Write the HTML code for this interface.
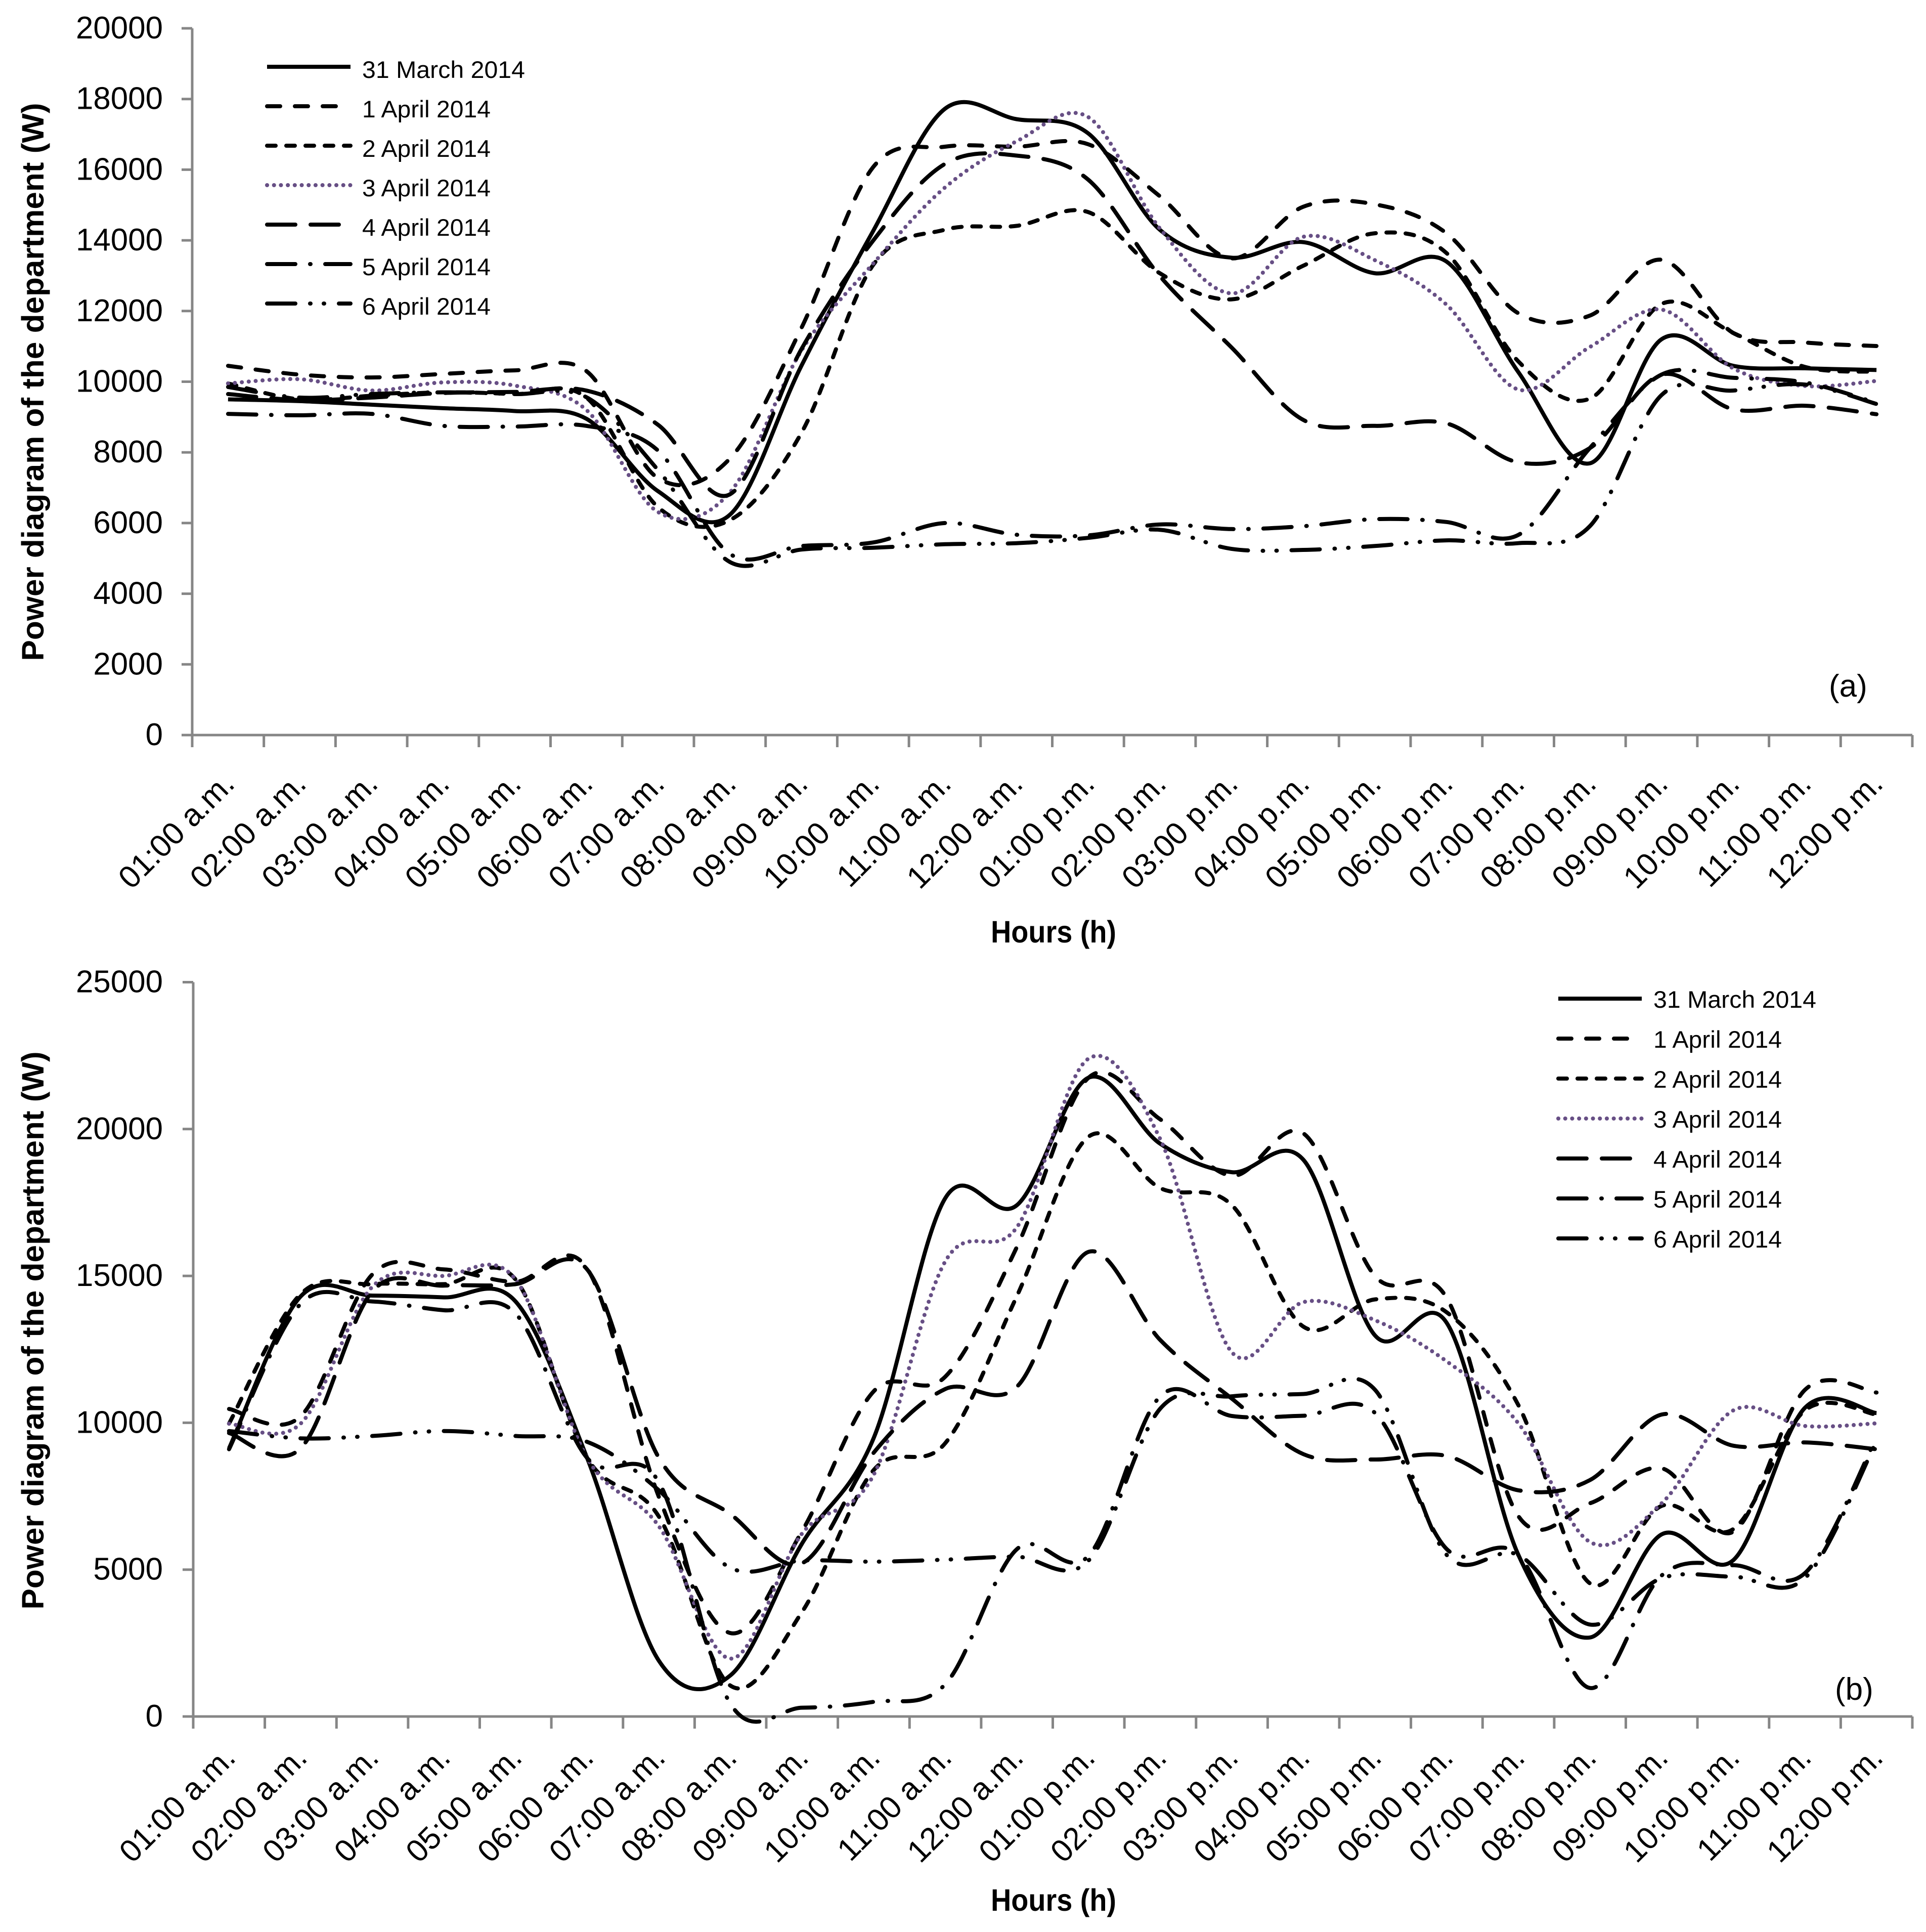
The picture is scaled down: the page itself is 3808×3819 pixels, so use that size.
<!DOCTYPE html>
<html lang="en">
<head>
<meta charset="utf-8">
<title>Power diagram of the department</title>
<style>
html,body{margin:0;padding:0;background:#fff;}
svg{display:block;}
text{font-family:"Liberation Sans",Arial,sans-serif;fill:#000;}
</style>
</head>
<body>
<svg id="figure" xmlns="http://www.w3.org/2000/svg" width="3808" height="3819" viewBox="0 0 3808 3819"></svg>
<script>
const categories = ["01:00 a.m.","02:00 a.m.","03:00 a.m.","04:00 a.m.","05:00 a.m.","06:00 a.m.","07:00 a.m.","08:00 a.m.","09:00 a.m.","10:00 a.m.","11:00 a.m.","12:00 a.m.","01:00 p.m.","02:00 p.m.","03:00 p.m.","04:00 p.m.","05:00 p.m.","06:00 p.m.","07:00 p.m.","08:00 p.m.","09:00 p.m.","10:00 p.m.","11:00 p.m.","12:00 p.m."];
const seriesNames = ["31 March 2014","1 April 2014","2 April 2014","3 April 2014","4 April 2014","5 April 2014","6 April 2014"];
const yTicksA = [0,2000,4000,6000,8000,10000,12000,14000,16000,18000,20000];
const yTicksB = [0,5000,10000,15000,20000,25000];

const panelA31March = [9500,9450,9350,9250,9170,8950,6900,6230,10450,14260,17720,17430,17030,14300,13510,13950,13070,13400,10280,7690,11200,10450,10380,10330];
const panelA1April = [10450,10200,10120,10220,10320,10300,7270,7820,11520,16070,16650,16650,16720,15250,13490,14950,15020,14200,11940,11870,13450,11380,11110,11010];
const panelA2April = [9950,9500,9600,9700,9650,9550,6450,6080,8550,13300,14300,14410,14800,13070,12330,13280,14200,13640,10580,9520,12200,11380,10420,10280];
const panelA3April = [9950,10070,9750,9980,9890,9200,6310,6860,10880,13340,15490,16800,17490,14340,12500,14100,13440,12180,9780,10980,12040,10380,9880,10020];
const panelA4April = [9650,9480,9550,9680,9710,9750,8780,6810,10920,13990,16160,16400,15720,12990,10970,8920,8750,8820,7720,8120,10200,9220,9320,9080];
const panelA5April = [9090,9050,9090,8750,8730,8750,8050,5130,5350,5450,6000,5670,5650,5960,5830,5910,6110,6030,5660,8120,10200,10110,9980,9400];
const panelA6April = [9850,9550,9650,9700,9650,9560,7500,4900,5250,5300,5400,5430,5580,5810,5270,5240,5350,5510,5430,5910,9620,9750,9920,9370];

const panelB31March = [9130,14300,14330,14270,14130,8800,1900,1400,5890,9480,17650,17410,21750,19500,18530,18950,12970,13400,5500,2690,6200,5320,10510,10330];
const panelB1April = [10470,10220,15050,15220,14800,15250,7480,2840,6310,11070,11570,15990,21750,20330,18410,19850,14990,14250,6820,7260,8450,6290,11120,11030];
const panelB2April = [9970,14380,14720,14720,14880,8800,6810,1050,3560,8390,9310,14320,19740,17990,17410,13270,14200,13760,10600,4530,7170,6380,10420,10280];
const panelB3April = [9970,9970,14630,15000,14880,8800,6480,1970,6230,8230,15500,16660,22400,19660,12400,14110,13490,12090,9980,5940,7260,10420,9890,9980];
const panelB4April = [9650,9130,14470,14670,14720,15220,8810,6890,5220,8980,11150,11230,15820,12820,10820,8930,8750,8870,7700,8050,10280,9220,9330,9100];
const panelB5April = [9100,14050,14130,13830,13720,8800,7980,430,300,500,1100,5700,5470,10900,10230,10240,10330,5700,5500,970,4800,5150,4880,9500];
const panelB6April = [9720,9470,9550,9720,9550,9350,7700,5060,5310,5270,5340,5440,5310,10480,10900,10980,11120,5500,5500,3130,4710,4760,4710,9370];

const panelASeries = [panelA31March,panelA1April,panelA2April,panelA3April,panelA4April,panelA5April,panelA6April];
const panelBSeries = [panelB31March,panelB1April,panelB2April,panelB3April,panelB4April,panelB5April,panelB6April];

const NS = "http://www.w3.org/2000/svg";
const fig = document.getElementById("figure");
const AXIS = "#868686";
const dashes = ["", "26 29", "17 21", "0.1 13.6", "56 30", "56 29 1 29", "56 29 1 26 1 29"];
const colours = ["#000","#000","#000","#674f85","#000","#000","#000"];

function svgEl(tag, parent){
  const e = document.createElementNS(NS, tag);
  parent.appendChild(e);
  return e;
}
function setAll(e, attrs){
  for (const k in attrs) e.setAttribute(k, attrs[k]);
  return e;
}
function smoothPath(pts){
  let d = "M" + pts[0][0].toFixed(1) + " " + pts[0][1].toFixed(1);
  for (let i = 0; i < pts.length - 1; i++){
    const p0 = pts[Math.max(i-1,0)], p1 = pts[i], p2 = pts[i+1], p3 = pts[Math.min(i+2,pts.length-1)];
    const c1x = p1[0] + (p2[0]-p0[0])/6, c1y = p1[1] + (p2[1]-p0[1])/6;
    const c2x = p2[0] - (p3[0]-p1[0])/6, c2y = p2[1] - (p3[1]-p1[1])/6;
    d += "C" + c1x.toFixed(1) + " " + c1y.toFixed(1) + " " + c2x.toFixed(1) + " " + c2y.toFixed(1) + " " + p2[0].toFixed(1) + " " + p2[1].toFixed(1);
  }
  return d;
}

function drawPanel(cfg){
  const g = svgEl("g", fig);
  
  
  const step = (cfg.right - cfg.left) / categories.length;
  const xScale = i => cfg.left + step * (i + 0.5);
  const yScale = v => cfg.y0 - (v / cfg.yMax) * (cfg.y0 - cfg.yTop);

  const yAxis = svgEl("path", g);
  
  
  setAll(yAxis, {d:"M"+cfg.left+" "+cfg.yTop+"V"+cfg.y0, stroke:AXIS, "stroke-width":5, fill:"none"});

  const xAxis = svgEl("path", g);
  
  
  setAll(xAxis, {d:"M"+(cfg.left-21)+" "+cfg.y0+"H"+cfg.right, stroke:AXIS, "stroke-width":5, fill:"none"});

  cfg.ticks.forEach(v => {
    const y = yScale(v);
    const t = svgEl("path", g);
    
    
    setAll(t, {d:"M"+(cfg.left-21)+" "+y.toFixed(1)+"H"+cfg.left, stroke:AXIS, "stroke-width":5, fill:"none"});
    const l = svgEl("text", g);
    
    
    setAll(l, {x:322, y:(y+20).toFixed(1), "text-anchor":"end", "font-size":62, textLength:String(v).length*34.4, lengthAdjust:"spacingAndGlyphs"});
    l.textContent = String(v);
  });

  for (let i = 0; i <= categories.length; i++){
    const x = cfg.left + step * i;
    const t = svgEl("path", g);
    
    
    setAll(t, {d:"M"+x.toFixed(1)+" "+cfg.y0+"V"+(cfg.y0+24), stroke:AXIS, "stroke-width":5, fill:"none"});
  }
  categories.forEach((c, i) => {
    const ax = xScale(i) + 16;
    const l = svgEl("text", g);
    
    
    setAll(l, {x:0, y:0, "text-anchor":"end", "font-size":62, transform:"translate("+ax.toFixed(1)+" "+cfg.labelY+") rotate(-45)"});
    l.textContent = c;
  });

  const yt = svgEl("text", g);
  
  
  setAll(yt, {x:0, y:0, "text-anchor":"middle", "font-size":61, "font-weight":"bold", textLength:1103, lengthAdjust:"spacingAndGlyphs", transform:"translate(86 "+cfg.yTitleC+") rotate(-90)"});
  yt.textContent = "Power diagram of the department (W)";

  const xt = svgEl("text", g);
  
  
  setAll(xt, {x:1959, y:cfg.xTitleY, "font-size":61, "font-weight":"bold", textLength:248, lengthAdjust:"spacingAndGlyphs"});
  xt.textContent = "Hours (h)";

  cfg.series.forEach((vals, s) => {
    const pts = vals.map((v, i) => [xScale(i), yScale(v)]);
    const p = svgEl("path", g);
    
    
    p.setAttribute("data-series", seriesNames[s]);
    setAll(p, {d:smoothPath(pts), fill:"none", stroke:colours[s], "stroke-width":8, "stroke-linecap":dashes[s] ? "round" : "butt", "stroke-linejoin":"round"});
    if (dashes[s]) p.setAttribute("stroke-dasharray", dashes[s]);
  });

  seriesNames.forEach((name, s) => {
    const row = svgEl("g", g);
    
    
    const ly = cfg.legendLineY + s * cfg.legendStep;
    const ln = svgEl("path", row);
    
    
    setAll(ln, {d:"M"+(cfg.legendX+4)+" "+ly+"H"+(cfg.legendX+169), fill:"none", stroke:colours[s], "stroke-width":8, "stroke-linecap":dashes[s] ? "round" : "butt"});
    if (dashes[s]) ln.setAttribute("stroke-dasharray", dashes[s]);
    const tx = svgEl("text", row);
    
    
    setAll(tx, {x:cfg.legendX+192, y:cfg.legendTextY + s*cfg.legendStep, "font-size":47, textLength:s===0?322:254, lengthAdjust:"spacingAndGlyphs"});
    tx.textContent = name;
  });

  const pl = svgEl("text", g);
  
  
  setAll(pl, {x:cfg.tagX, y:cfg.tagY, "font-size":62});
  pl.textContent = cfg.tag;
}

drawPanel({id:"panel-a", left:380, right:3781, y0:1453, yTop:56, yMax:20000, ticks:yTicksA, series:panelASeries, labelY:1553, yTitleC:755, xTitleY:1863, legendX:524, legendLineY:132, legendTextY:154, legendStep:78, tag:"(a)", tagX:3616, tagY:1377});
drawPanel({id:"panel-b", left:382, right:3781, y0:3393, yTop:1941.5, yMax:25000, ticks:yTicksB, series:panelBSeries, labelY:3478, yTitleC:2630, xTitleY:3777, legendX:3077, legendLineY:1974, legendTextY:1992, legendStep:79, tag:"(b)", tagX:3628, tagY:3360});
</script>
</body>
</html>
